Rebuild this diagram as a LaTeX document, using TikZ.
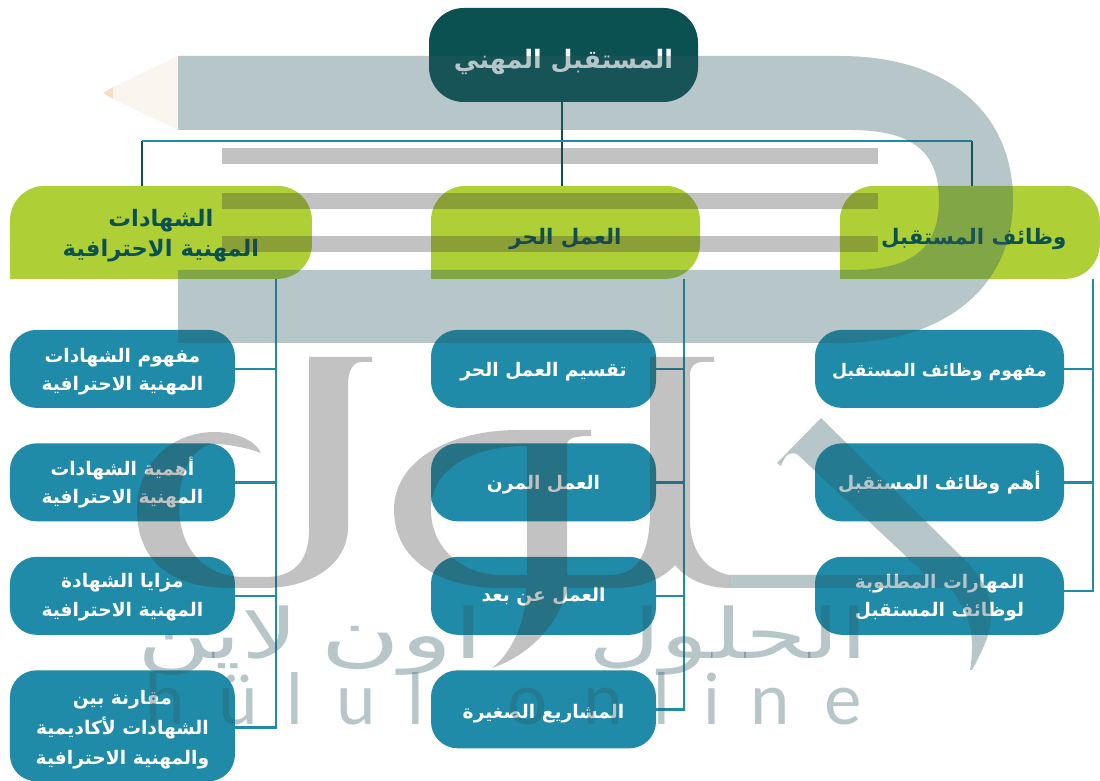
\documentclass[tikz,border=0pt]{standalone}
\usepackage{fontspec}
\usepackage{xcolor}
\usetikzlibrary{positioning}
\TeXXeTstate=1
\newfontfamily\arabicfont[Script=Arabic]{DejaVu Sans}
\newfontfamily\logofont{Lato}
\newcommand{\artxt}[1]{\beginR #1\endR}
\newcommand{\lowtxt}[2]{\raisebox{-#1}[\height][\depth]{#2}}
\definecolor{deepteal}{HTML}{0B5152}
\definecolor{freshlime}{HTML}{AFCF36}
\definecolor{oceanblue}{HTML}{1F8BA8}
\definecolor{markgrey}{HTML}{3A3A3A}
\definecolor{markblue}{HTML}{2E5B64}
\definecolor{pencilwood}{HTML}{FBF5F0}
\definecolor{penciltip}{HTML}{F8DCC6}
\tikzset{
    basebox/.style={rectangle, inner sep=0pt, outer sep=0pt, align=center},
    rootbox/.style={basebox, fill=deepteal, text=white, rounded corners=26pt, minimum width=201.75pt, minimum height=70.5pt, font=\arabicfont\bfseries\fontsize{19}{22}\selectfont},
    headbox/.style={basebox, fill=freshlime, text=deepteal, rounded corners=26pt, minimum height=69.75pt, font=\arabicfont\bfseries\fontsize{16}{22.5}\selectfont},
    subbox/.style={basebox, fill=oceanblue, text=white, rounded corners=20pt, minimum width=168.75pt, minimum height=58.5pt, font=\arabicfont\bfseries\fontsize{14}{21.5}\selectfont},
    stem/.style={draw=deepteal, line width=1.9pt},
    rail/.style={draw=oceanblue, line width=1.9pt},
    greymark/.style={fill=markgrey, fill opacity=.31},
    bluemark/.style={fill=markblue, fill opacity=.35},
    wmletter/.style={anchor=base, inner sep=0pt, text=markblue, text opacity=.35, font=\logofont\fontsize{53}{53}\selectfont},
    wmword/.style={anchor=base, inner sep=0pt, text=markblue, text opacity=.35, font=\arabicfont\fontsize{52}{52}\selectfont},
}
\begin{document}
\begin{tikzpicture}[x=.75pt, y=.75pt]
    \useasboundingbox (0,0) rectangle (1100,781);
    \clip (0,0) rectangle (1100,781);

    % Head row
    \node[rootbox] (future) at (563.5,726) {\lowtxt{5.2pt}{\artxt{المستقبل المهني}}};
    \node[headbox, minimum width=201.75pt, below=62.9pt of future, xshift=1.5pt] (freework) {\lowtxt{5.2pt}{\artxt{العمل الحر}}};
    \node[headbox, minimum width=226.5pt, left of=freework, node distance=303.4pt, font=\arabicfont\bfseries\fontsize{17}{22.5}\selectfont] (certs) {\lowtxt{2.2pt}{\artxt{الشهادات}}\\\lowtxt{2.2pt}{\artxt{المهنية الاحترافية}}};
    \node[headbox, minimum width=195pt, right of=freework, node distance=303.2pt] (jobs) {\hspace*{6pt}\lowtxt{5.2pt}{\artxt{وظائف المستقبل}}};
    \fill[freshlime] (certs.south west) rectangle ++(40,40);
    \fill[freshlime] (freework.south west) rectangle ++(40,40);
    \fill[freshlime] (jobs.south west) rectangle ++(40,40);

    % Left column
    \tikzset{node distance=85.1pt}
    \node[subbox, below of=certs, node distance=102.4pt, xshift=-28.9pt] (cert1) {\lowtxt{2pt}{\artxt{مفهوم الشهادات}}\\\lowtxt{2pt}{\artxt{المهنية الاحترافية}}};
    \node[subbox, below of=cert1] (cert2) {\artxt{أهمية الشهادات}\\\artxt{المهنية الاحترافية}};
    \node[subbox, below of=cert2] (cert3) {\lowtxt{1pt}{\artxt{مزايا الشهادة}}\\\lowtxt{1pt}{\artxt{المهنية الاحترافية}}};
    \node[subbox, minimum height=83.25pt, below of=cert3, yshift=-12.4pt, font=\arabicfont\bfseries\fontsize{14}{22.5}\selectfont] (cert4) {\lowtxt{3pt}{\artxt{مقارنة بين}}\\\lowtxt{3pt}{\artxt{الشهادات لأكاديمية}}\\\lowtxt{3pt}{\artxt{والمهنية الاحترافية}}};

    % Middle column
    \node[subbox, below of=freework, node distance=102.4pt, xshift=-16.5pt] (free1) {\lowtxt{2.2pt}{\artxt{تقسيم العمل الحر}}};
    \node[subbox, below of=free1] (free2) {\lowtxt{1.5pt}{\artxt{العمل المرن}}};
    \node[subbox, below of=free2] (free3) {\lowtxt{.8pt}{\artxt{العمل عن بعد}}};
    \node[subbox, below of=free3] (free4) {\lowtxt{3.5pt}{\artxt{المشاريع الصغيرة}}};

    % Right column
    \node[subbox, minimum width=186.75pt, below of=jobs, node distance=102.4pt, xshift=-22.7pt, font=\arabicfont\bfseries\fontsize{13}{21.5}\selectfont] (job1) {\lowtxt{2.2pt}{\artxt{مفهوم وظائف المستقبل}}};
    \node[subbox, minimum width=186.75pt, below of=job1] (job2) {\artxt{أهم وظائف المستقبل}};
    \node[subbox, minimum width=186.75pt, below of=job2] (job3) {\lowtxt{1.5pt}{\artxt{المهارات المطلوبة}}\\\lowtxt{1.5pt}{\artxt{لوظائف المستقبل}}};

    % Connectors
    \coordinate (busleft) at (142,640);
    \coordinate (busright) at (972,640);
    \coordinate (certrail) at (276,502);
    \coordinate (freerail) at (684,502);
    \coordinate (jobrail) at (1093,502);
    \draw[stem] ([xshift=-1.1pt]future.south) -- ([xshift=-1.1pt]future.south |- freework.north);
    \draw[stem] (busleft) -- (busleft |- certs.north);
    \draw[stem] (busright) -- (busright |- jobs.north);
    \draw[rail] (busleft) -- (busright);
    \draw[rail] (certrail) |- ([yshift=-1.3pt]cert4.east);
    \draw[rail] (cert1.east) -- (cert1.east -| certrail);
    \draw[rail] (cert2.east) -- (cert2.east -| certrail);
    \draw[rail] (cert3.east) -- (cert3.east -| certrail);
    \draw[rail] (freerail) |- (free4.east);
    \draw[rail] (free1.east) -- (free1.east -| freerail);
    \draw[rail] (free2.east) -- (free2.east -| freerail);
    \draw[rail] (free3.east) -- (free3.east -| freerail);
    \draw[rail] (jobrail) |- ([yshift=3.5pt]job3.east);
    \draw[rail] (job1.east) -- (job1.east -| jobrail);
    \draw[rail] (job2.east) -- (job2.east -| jobrail);

    % Logo on top, in pixels from the top edge
    \begin{scope}[shift={(0,781)}, yscale=-1]
        \fill[pencilwood] (178,56) -- (113,87) -- (113,99) -- (178,130) -- cycle;
        \fill[penciltip] (103,93) -- (113,87) -- (113,99) -- cycle;
        \fill[bluemark] (178,56) -- (840,56) .. controls (950,56) and (1013,115) .. (1013,200)
            .. controls (1013,290) and (940,343) .. (840,343) -- (178,343) -- (178,270) -- (850,270)
            .. controls (910,270) and (939,250) .. (939,200) .. controls (939,150) and (910,130) .. (850,130) -- (178,130) -- cycle;
        \foreach \barY in {148,193,236}
            \fill[greymark] (222,\barY) rectangle (878,\barY+16);
        \fill[greymark] (309,357) -- (372,357) -- (372,362) -- (362,362) .. controls (352,362) and (348,372) .. (348,385)
            -- (348,527) .. controls (348,565) and (310,588) .. (265,588) -- (230,588)
            .. controls (170,588) and (137,560) .. (137,510) .. controls (137,465) and (170,432) .. (215,432)
            .. controls (235,432) and (255,440) .. (261,453) .. controls (245,447) and (225,444) .. (215,444)
            .. controls (195,444) and (179,470) .. (179,505) .. controls (179,550) and (205,577) .. (245,577)
            -- (265,577) .. controls (295,577) and (309,560) .. (309,530) -- cycle;
        \fill[greymark, even odd rule] (591,430) -- (519,430) .. controls (450,430) and (394,460) .. (394,510)
            .. controls (394,560) and (440,588) .. (500,588) -- (526,588) .. controls (527,615) and (515,650) .. (492,668)
            .. controls (530,655) and (558,625) .. (568,588) -- (615,588) .. controls (640,588) and (662,580) .. (675,565)
            .. controls (685,578) and (705,588) .. (729,588) -- (729,575) .. controls (705,570) and (690,550) .. (690,520)
            -- (690,375) .. controls (690,366) and (695,362) .. (703,362) -- (714,362) -- (714,357) -- (650,357)
            -- (650,510) .. controls (650,550) and (640,575) .. (610,575) -- (567,575) -- (567,445)
            .. controls (567,438) and (575,436) .. (591,436) -- cycle
            (527,446) .. controls (470,446) and (431,470) .. (431,510) .. controls (431,550) and (465,575) .. (500,575)
            -- (527,575) -- cycle;
        \fill[bluemark] (729,575) -- (926,575) -- (798,455) .. controls (790,450) and (785,455) .. (781,466) -- (777,463)
            -- (821,418) -- (968,563) .. controls (1000,600) and (997,625) .. (972,670) -- (970,670)
            .. controls (975,640) and (972,615) .. (950,588) -- (729,588) -- cycle;
        \node[wmword] (wordlayn) at (218,659) {\scalebox{1.45}[1]{\artxt{لاين}}};
        \node[wmword] (wordon) at (402,659) {\scalebox{1.58}[1]{\artxt{اون}}};
        \node[wmword] (wordhulul) at (728,659) {\scalebox{1.44}[1]{\artxt{الحلول}}};
        \foreach \xx/\ch [count=\i] in {165/h,238/ü,295/l,356/u,416/l,528/o,603/n,662/l,712/i,770/n,843/e}
            \node[wmletter] (wm\i) at (\xx,725) {\ch};
    \end{scope}
\end{tikzpicture}
\end{document}
